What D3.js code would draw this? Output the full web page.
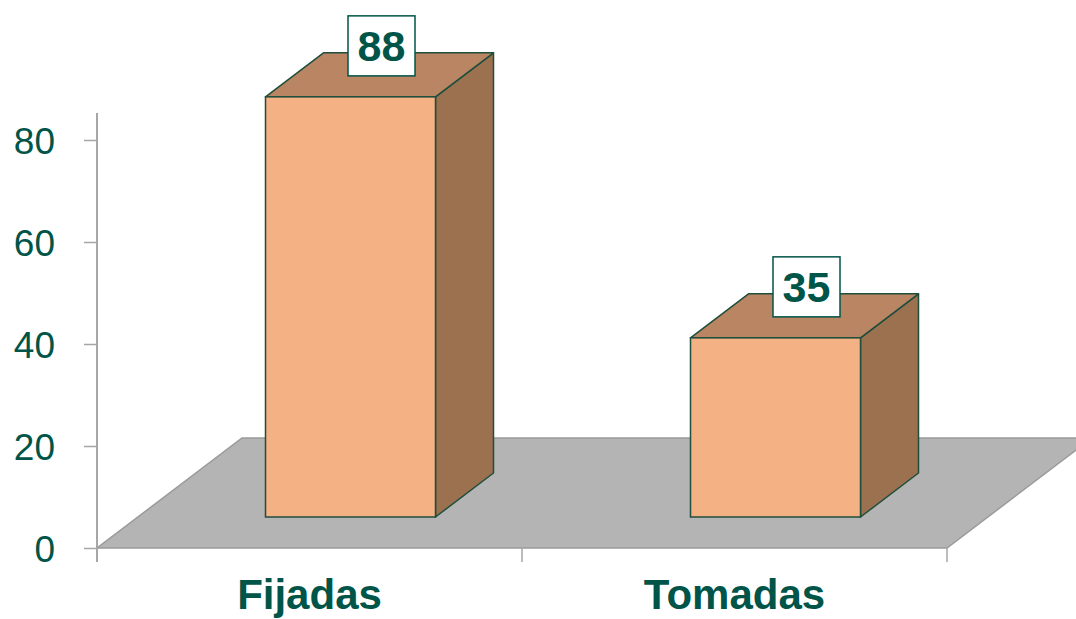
<!DOCTYPE html>
<meta charset="utf-8">
<style>
body{ margin:0; background:#fff; }
text{ font-family:"Liberation Sans", Arial, sans-serif; fill:#005448; }
.tick text{ font-size:37px; }
.cat{ font-size:42px; font-weight:bold; text-anchor:middle; }
.val{ font-size:43px; font-weight:bold; text-anchor:middle; }
</style>
<body>
<script src="https://d3js.org/d3.v7.min.js"></script>
<script>
// data
var categories = ["Fijadas", "Tomadas"];
var values = [88, 35];
var yTicks = [0, 20, 40, 60, 80];

var W = 1076, H = 619;
var svg = d3.select("body").append("svg").attr("width", W).attr("height", H);

// front plane of the floor
var x0 = 97, x1 = 947, floorY = 548;
// floor depth offset (back edge)
var depthX = 145, depthY = -110;
// bar placement inside the depth
var barFrontDX = 41, barFrontDY = -31, barDX = 58, barDY = -44;

var x = d3.scaleBand().domain(categories).range([x0, x1]).paddingInner(0.6).paddingOuter(0.3);
var xCat = d3.scaleBand().domain(categories).range([x0, x1]);
var y = d3.scaleLinear().domain([0, 80]).range([floorY, 140]);
// perspective makes bar heights an affine function of the value
var hBar = d3.scaleLinear().domain([0, 80]).range([20, 20 + 80 * 4.547]);

// floor
svg.append("path")
  .attr("d", d3.line()([[x0, floorY], [x1, floorY], [x1 + depthX, floorY + depthY], [x0 + depthX, floorY + depthY]]) + "Z")
  .attr("fill", "#b4b4b4").attr("stroke", "#9a9a9a").attr("stroke-width", 1.5);

// y axis
var yAxis = svg.append("g").attr("transform", "translate(" + x0 + ",0)")
  .call(d3.axisLeft(y).tickValues(yTicks).tickSize(13).tickPadding(29));
yAxis.select(".domain").remove();
yAxis.selectAll(".tick line").attr("stroke", "#a6a6a6").attr("stroke-width", 1.5);
yAxis.selectAll(".tick text").attr("dy", "0.36em");
svg.append("line").attr("x1", x0).attr("x2", x0).attr("y1", 113).attr("y2", 562)
  .attr("stroke", "#a6a6a6").attr("stroke-width", 2);

// category ticks
var catTicks = categories.map(function(c){ return xCat(c); }).concat([x1]);
svg.selectAll(".ctick").data(catTicks).enter().append("line")
  .attr("x1", function(d){ return d; }).attr("x2", function(d){ return d; })
  .attr("y1", floorY).attr("y2", 562)
  .attr("stroke", "#a6a6a6").attr("stroke-width", 1.5);

svg.selectAll(".cat").data(categories).enter().append("text")
  .attr("class", "cat")
  .attr("x", function(d){ return xCat(d) + xCat.bandwidth() / 2; })
  .attr("y", 609)
  .text(function(d){ return d; });

// bars
var bars = svg.selectAll(".bar").data(categories).enter().append("g").attr("class", "bar");
var stroke = "#1f4e3d";
bars.each(function(c, i){
  var g = d3.select(this);
  var l = x(c) + barFrontDX, r = l + x.bandwidth();
  var b = floorY + barFrontDY, t = b - hBar(values[i]);
  // side
  g.append("path").attr("d", d3.line()([[r, b], [r + barDX, b + barDY], [r + barDX, t + barDY], [r, t]]) + "Z")
    .attr("fill", "#9c7150").attr("stroke", stroke).attr("stroke-width", 1.5).attr("stroke-linejoin", "round");
  // top
  g.append("path").attr("d", d3.line()([[l, t], [r, t], [r + barDX, t + barDY], [l + barDX, t + barDY]]) + "Z")
    .attr("fill", "#b98562").attr("stroke", stroke).attr("stroke-width", 1.5).attr("stroke-linejoin", "round");
  // front
  g.append("rect").attr("x", l).attr("y", t).attr("width", r - l).attr("height", b - t)
    .attr("fill", "#f4b184").attr("stroke", stroke).attr("stroke-width", 1.5);
  // value label
  var cx = (l + r) / 2 + barDX / 2 + 2, by = t - 21;
  var bw = 67, bh = 60;
  g.append("rect").attr("x", cx - bw / 2).attr("y", by - bh).attr("width", bw).attr("height", bh)
    .attr("fill", "#fff").attr("stroke", "#005448").attr("stroke-width", 1.5);
  g.append("text").attr("class", "val").attr("x", cx).attr("y", by - bh / 2 + 15).text(values[i]);
});
</script>
</body>
